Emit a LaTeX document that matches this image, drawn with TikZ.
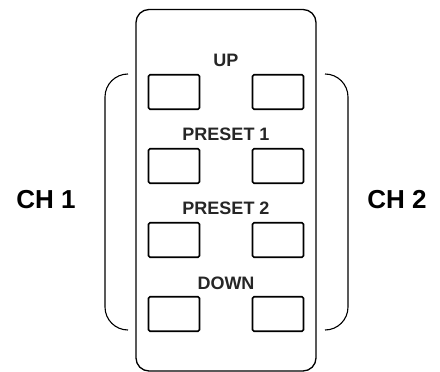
\documentclass[tikz,border=0pt]{standalone}
\usepackage{fontspec}
\setmainfont{Liberation Sans}
\begin{document}
\begin{tikzpicture}[x=1pt,y=-1pt,
	button/.style={draw,line width=1.7pt,rounded corners=1.5pt,minimum width=51pt,minimum height=34.5pt,inner sep=0pt},
	keylabel/.style={font=\bfseries\fontsize{18}{19}\selectfont,text=black!85,inner sep=0pt},
	chlabel/.style={font=\bfseries\fontsize{26}{27}\selectfont,inner sep=0pt},
	bracket/.style={line width=1.1pt,rounded corners=23pt}]
	\useasboundingbox (0,0) rectangle (440,372);
	% remote body
	\draw [line width=1.3pt,rounded corners=13pt] (136,9.5) rectangle (316,371);
	% buttons, left column CH 1, right column CH 2
	\foreach \row/\y in {1/92,2/166,3/240,4/314} {
		\node [button] (l\row) at (174,\y) {};
		\node [button] (r\row) at (278,\y) {};
	}
	\node [keylabel] (up) at (226,60) {UP};
	\node [keylabel] (preset1) at (226,134) {PRESET 1};
	\node [keylabel] (preset2) at (226,208) {PRESET 2};
	\node [keylabel] (down) at (226,283) {DOWN};
	% channel brackets
	\draw [bracket] (128,74) -- (105,74) -- (105,330) -- (128,330);
	\draw [bracket] (325,74) -- (348,74) -- (348,330) -- (325,330);
	\node [chlabel] (ch1) at (46,200) {CH 1};
	\node [chlabel] (ch2) at (397,200) {CH 2};
\end{tikzpicture}
\end{document}
